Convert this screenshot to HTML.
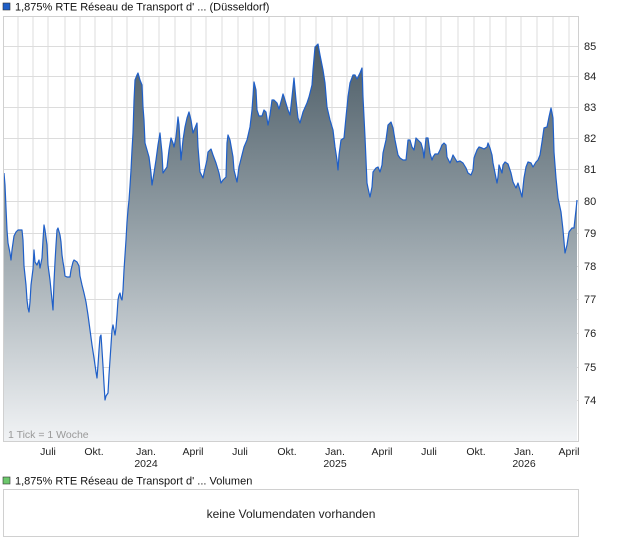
<!DOCTYPE html>
<html><head><meta charset="utf-8"><style>
body{margin:0;background:#fff;width:620px;height:546px;overflow:hidden;font-family:"Liberation Sans",sans-serif}
</style></head><body>
<svg width="620" height="546" xmlns="http://www.w3.org/2000/svg" font-family="Liberation Sans, sans-serif">
<defs><linearGradient id="g" x1="0" y1="44" x2="0" y2="441" gradientUnits="userSpaceOnUse">
<stop offset="0" stop-color="#4c5c66"/><stop offset="0.45" stop-color="#929ea5"/><stop offset="1" stop-color="#f1f3f5"/></linearGradient></defs>
<rect x="3" y="3" width="7" height="7" fill="#1f5fc8" stroke="#333" stroke-width="0.6"/>
<text x="15" y="10.5" font-size="11" fill="#111">1,875% RTE Réseau de Transport d' ... (Düsseldorf)</text>
<g stroke="#dcdcdc" stroke-width="1">
<path d="M18 16V441M33 16V441M48 16V441M65 16V441M80 16V441M95 16V441M112 16V441M127 16V441M143 16V441M159 16V441M175 16V441M191 16V441M206 16V441M222 16V441M238 16V441M253 16V441M269 16V441M285 16V441M300 16V441M316 16V441M332 16V441M347 16V441M363 16V441M379 16V441M394 16V441M410 16V441M426 16V441M441 16V441M458 16V441M474 16V441M490 16V441M506 16V441M521 16V441M537 16V441M553 16V441M569 16V441"/>
<path d="M3 46.5H578M3 76.5H578M3 107.5H578M3 138.5H578M3 169.5H578M3 201.5H578M3 233.5H578M3 266.5H578M3 299.5H578M3 333.5H578M3 367.5H578M3 400.5H578"/>
</g>
<path id="p" fill="none" d="M4 173L5 185L6 208L7 230L8 243L10 253L11 260L12 250L14 236L16 232L18 230L22 230L23 240L24 266L26 285L27 300L28 308L29 312L30 302L31 285L33 269L34 250L35 262L37 265L39 260L40 268L42 258L43 240L44 225L45 230L47 245L48 265L50 280L51 290L52 300L53 310L54 282L55 262L56 245L57 230L58 228L60 235L61 242L62 255L63 262L64 268L65 276L67 277L70 277L71 270L73 262L74 260L77 262L79 266L80 276L82 285L84 293L86 302L88 315L90 330L92 345L94 358L96 372L97 378L98 365L99 350L100 337L101 335L102 350L103 366L104 384L105 400L106 396L108 393L109 375L111 345L112 330L113 325L114 330L115 335L116 328L117 315L118 300L119 295L120 293L121 298L122 300L123 290L124 270L125 255L126 240L127 222L128 210L129 200L130 186L131 170L132 150L133 133L134 101L135 80L137 75L138 73L140 80L142 85L143 107L144 120L145 143L147 150L149 157L151 173L152 185L154 173L156 160L158 145L160 133L162 153L163 173L167 167L169 150L171 138L173 143L174 147L176 137L178 117L179 125L181 160L183 140L185 127L187 118L189 112L191 120L193 133L195 128L197 123L198 147L200 172L203 178L204 173L207 160L208 152L211 149L213 155L216 163L219 173L221 183L223 180L226 177L227 143L228 135L230 140L233 157L234 170L237 182L239 167L242 155L244 147L247 140L250 127L252 110L254 82L256 90L257 110L259 116L262 116L264 110L266 112L268 125L270 115L272 100L274 100L277 103L279 109L282 98L283 94L285 100L288 110L290 115L292 97L294 78L296 100L298 118L300 123L303 112L307 103L309 97L312 85L313 70L315 47L318 44L320 55L323 70L325 83L327 107L330 120L333 130L335 147L337 160L338 170L339 155L341 140L344 138L346 117L348 97L350 83L353 75L355 75L357 79L360 73L362 68L363 97L365 137L367 183L368 188L370 197L372 187L373 172L376 168L378 167L380 172L382 165L383 153L386 140L388 125L391 122L393 128L395 140L398 155L400 158L403 160L406 160L408 140L410 140L412 147L414 150L416 138L418 140L421 143L423 150L424 158L426 138L428 138L430 153L432 160L433 157L435 154L438 154L440 150L442 145L444 143L446 145L447 157L450 163L452 158L453 155L456 160L457 162L460 161L463 163L466 168L468 173L471 175L473 170L474 158L477 150L479 147L482 148L484 149L487 147L488 143L490 148L492 155L493 163L495 173L497 183L498 177L499 165L502 173L503 165L505 162L508 164L511 173L513 182L516 188L518 183L520 190L522 197L524 178L526 167L528 162L531 163L533 167L536 162L538 160L540 155L542 142L544 128L547 127L549 117L551 108L553 118L554 152L556 178L558 198L561 212L563 230L565 253L567 245L569 232L572 228L574 228L576 210L577 200"/>
<path fill="url(#g)" d="M4 441L4 173L5 185L6 208L7 230L8 243L10 253L11 260L12 250L14 236L16 232L18 230L22 230L23 240L24 266L26 285L27 300L28 308L29 312L30 302L31 285L33 269L34 250L35 262L37 265L39 260L40 268L42 258L43 240L44 225L45 230L47 245L48 265L50 280L51 290L52 300L53 310L54 282L55 262L56 245L57 230L58 228L60 235L61 242L62 255L63 262L64 268L65 276L67 277L70 277L71 270L73 262L74 260L77 262L79 266L80 276L82 285L84 293L86 302L88 315L90 330L92 345L94 358L96 372L97 378L98 365L99 350L100 337L101 335L102 350L103 366L104 384L105 400L106 396L108 393L109 375L111 345L112 330L113 325L114 330L115 335L116 328L117 315L118 300L119 295L120 293L121 298L122 300L123 290L124 270L125 255L126 240L127 222L128 210L129 200L130 186L131 170L132 150L133 133L134 101L135 80L137 75L138 73L140 80L142 85L143 107L144 120L145 143L147 150L149 157L151 173L152 185L154 173L156 160L158 145L160 133L162 153L163 173L167 167L169 150L171 138L173 143L174 147L176 137L178 117L179 125L181 160L183 140L185 127L187 118L189 112L191 120L193 133L195 128L197 123L198 147L200 172L203 178L204 173L207 160L208 152L211 149L213 155L216 163L219 173L221 183L223 180L226 177L227 143L228 135L230 140L233 157L234 170L237 182L239 167L242 155L244 147L247 140L250 127L252 110L254 82L256 90L257 110L259 116L262 116L264 110L266 112L268 125L270 115L272 100L274 100L277 103L279 109L282 98L283 94L285 100L288 110L290 115L292 97L294 78L296 100L298 118L300 123L303 112L307 103L309 97L312 85L313 70L315 47L318 44L320 55L323 70L325 83L327 107L330 120L333 130L335 147L337 160L338 170L339 155L341 140L344 138L346 117L348 97L350 83L353 75L355 75L357 79L360 73L362 68L363 97L365 137L367 183L368 188L370 197L372 187L373 172L376 168L378 167L380 172L382 165L383 153L386 140L388 125L391 122L393 128L395 140L398 155L400 158L403 160L406 160L408 140L410 140L412 147L414 150L416 138L418 140L421 143L423 150L424 158L426 138L428 138L430 153L432 160L433 157L435 154L438 154L440 150L442 145L444 143L446 145L447 157L450 163L452 158L453 155L456 160L457 162L460 161L463 163L466 168L468 173L471 175L473 170L474 158L477 150L479 147L482 148L484 149L487 147L488 143L490 148L492 155L493 163L495 173L497 183L498 177L499 165L502 173L503 165L505 162L508 164L511 173L513 182L516 188L518 183L520 190L522 197L524 178L526 167L528 162L531 163L533 167L536 162L538 160L540 155L542 142L544 128L547 127L549 117L551 108L553 118L554 152L556 178L558 198L561 212L563 230L565 253L567 245L569 232L572 228L574 228L576 210L577 200L577 441Z"/>
<use href="#p" stroke="#1f5fc8" stroke-width="1.2" stroke-linejoin="round"/>
<rect x="3.5" y="16.5" width="575" height="425" fill="none" stroke="#d0d0d0"/>
<text x="8" y="438" font-size="10.5" fill="#999">1 Tick = 1 Woche</text>
<g font-size="11" fill="#222">
<text x="584" y="50">85</text><text x="584" y="80">84</text><text x="584" y="111">83</text><text x="584" y="142">82</text><text x="584" y="173">81</text><text x="584" y="205">80</text><text x="584" y="237">79</text><text x="584" y="270">78</text><text x="584" y="303">77</text><text x="584" y="337">76</text><text x="584" y="371">75</text><text x="584" y="404">74</text>
</g>
<g font-size="10.5" fill="#222" text-anchor="middle">
<text x="48" y="455">Juli</text><text x="94" y="455">Okt.</text><text x="146" y="455">Jan.</text><text x="146" y="467">2024</text><text x="193" y="455">April</text><text x="240" y="455">Juli</text><text x="287" y="455">Okt.</text><text x="335" y="455">Jan.</text><text x="335" y="467">2025</text><text x="382" y="455">April</text><text x="429" y="455">Juli</text><text x="476" y="455">Okt.</text><text x="524" y="455">Jan.</text><text x="524" y="467">2026</text><text x="569" y="455">April</text>
</g>
<rect x="3" y="477" width="7" height="7" fill="#6cc86c" stroke="#333" stroke-width="0.6"/>
<text x="15" y="484.5" font-size="11" fill="#111">1,875% RTE Réseau de Transport d' ... Volumen</text>
<rect x="3.5" y="489.5" width="575" height="47" fill="#fff" stroke="#d0d0d0"/>
<text x="291" y="518" font-size="12" fill="#222" text-anchor="middle">keine Volumendaten vorhanden</text>
</svg>
</body></html>
